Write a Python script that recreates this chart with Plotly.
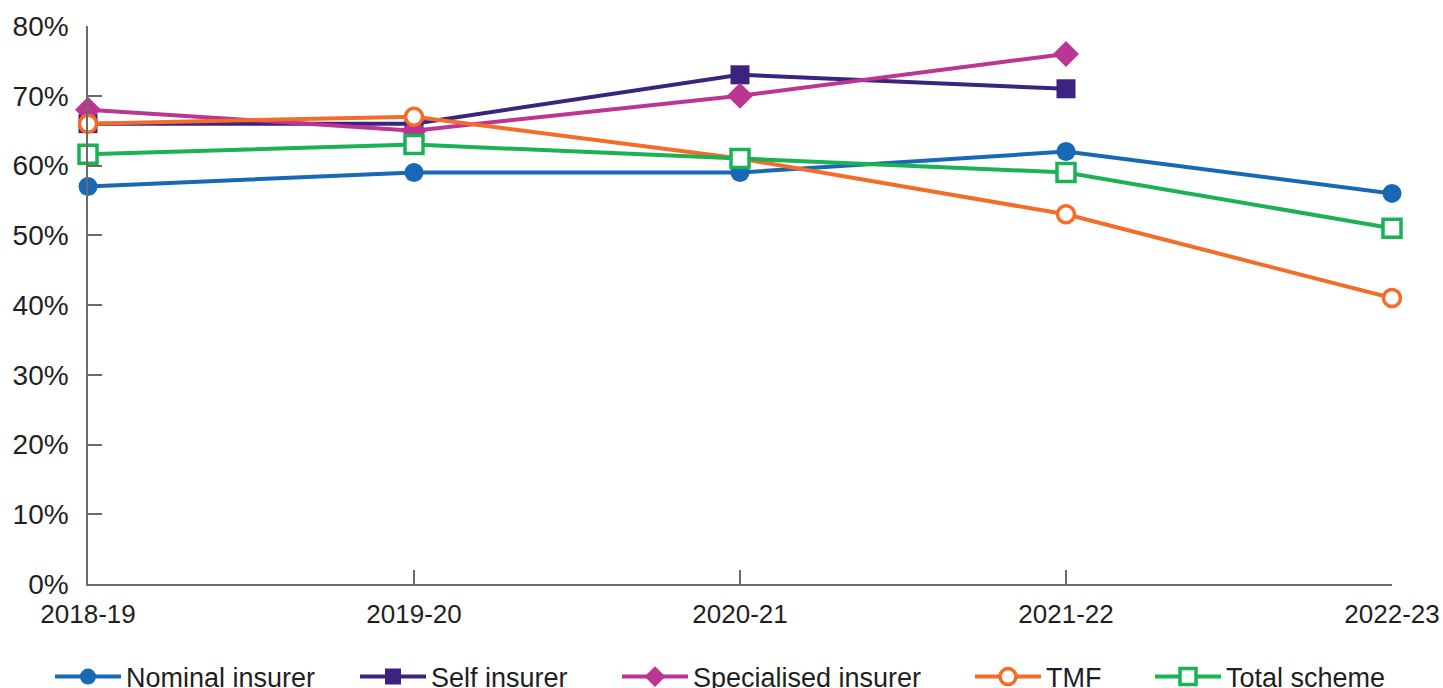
import plotly.graph_objects as go

years = ["2018-19", "2019-20", "2020-21", "2021-22", "2022-23"]

nominal_insurer = [57, 59, 59, 62, 56]
self_insurer = [66, 66, 73, 71, None]
specialised_insurer = [68, 65, 70, 76, None]
tmf = [66, 67, 61, 53, 41]
total_scheme = [61.6, 63, 61, 59, 51]

y_ticks = [0, 10, 20, 30, 40, 50, 60, 70, 80]
y_tick_labels = [f"{v}%" for v in y_ticks]

FONT = "Liberation Sans, Arial, sans-serif"
TEXT = "#1f1f1f"
AXIS = "#6b6b6b"
W, H = 1443, 688

x_pos = list(range(len(years)))

# one legend per series so each key sits at its own left edge (px)
series = [
    dict(name="Nominal insurer", y=nominal_insurer, color="#1769B5",
         symbol="circle", size=19, fill="#1769B5", lw=0, key_x=50),
    dict(name="Self insurer", y=self_insurer, color="#3C2380",
         symbol="square", size=19, fill="#3C2380", lw=0, key_x=355),
    dict(name="Specialised insurer", y=specialised_insurer, color="#BB3593",
         symbol="diamond", size=20, fill="#BB3593", lw=0, key_x=617),
    dict(name="TMF", y=tmf, color="#F36C28",
         symbol="circle", size=17, fill="white", lw=3.5, key_x=970),
    dict(name="Total scheme", y=total_scheme, color="#1BB155",
         symbol="square", size=18, fill="white", lw=3.5, key_x=1150),
]

fig = go.Figure()
legend_layouts = {}
for i, s in enumerate(series):
    lg = "legend" if i == 0 else f"legend{i + 1}"
    fig.add_trace(go.Scatter(
        x=x_pos, y=s["y"], name=s["name"], mode="lines+markers",
        line=dict(color=s["color"], width=4),
        marker=dict(symbol=s["symbol"], size=s["size"], color=s["fill"],
                    line=dict(color=s["color"], width=s["lw"])),
        cliponaxis=False, legend=lg,
    ))
    legend_layouts[lg] = dict(
        orientation="h", xref="container", yref="container",
        x=s["key_x"] / W, xanchor="left", y=11 / H, yanchor="middle",
        font=dict(family=FONT, size=27, color=TEXT),
        itemwidth=66, bgcolor="rgba(0,0,0,0)",
    )

fig.update_layout(
    width=W, height=H,
    margin=dict(l=88, r=51, t=26, b=104),
    paper_bgcolor="white", plot_bgcolor="white",
    font=dict(family=FONT, size=26, color=TEXT),
    showlegend=True,
    **legend_layouts,
)

fig.update_xaxes(
    range=[0, 4], tickmode="array", tickvals=x_pos, ticktext=years,
    showgrid=False, zeroline=False, automargin=False,
    showline=True, linecolor=AXIS, linewidth=1.5,
    ticks="inside", ticklen=14, tickcolor=AXIS, tickwidth=1.5,
    ticklabelstandoff=6,
    tickfont=dict(family=FONT, size=26, color=TEXT),
)
fig.update_yaxes(
    range=[0, 80], tickmode="array", tickvals=y_ticks, ticktext=y_tick_labels,
    showgrid=False, zeroline=False, automargin=False,
    showline=True, linecolor=AXIS, linewidth=1.5,
    ticks="inside", ticklen=14, tickcolor=AXIS, tickwidth=1.5,
    ticklabelstandoff=12,
    tickfont=dict(family=FONT, size=28, color=TEXT),
)

fig.write_html("out.html")
